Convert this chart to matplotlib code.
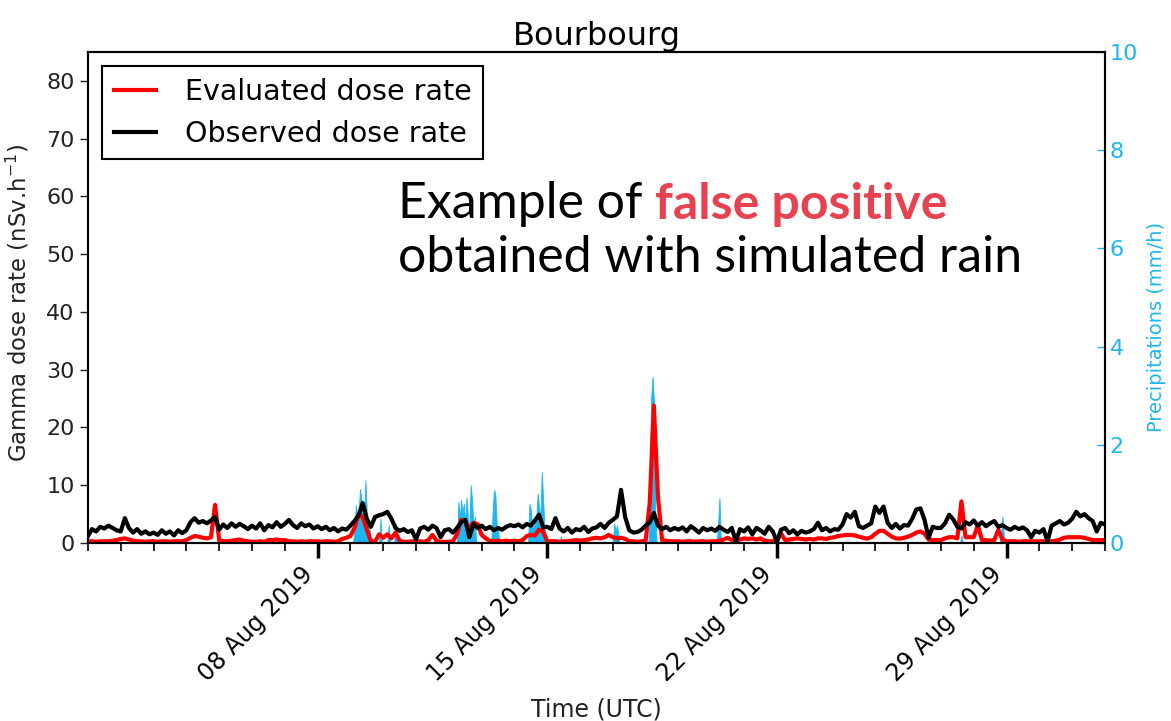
import numpy as np
import matplotlib
matplotlib.use('Agg')
import matplotlib.pyplot as plt
import matplotlib.dates as mdates

# data
START = np.datetime64('2019-08-01T00:00')
END = np.datetime64('2019-09-01T00:00')

# observed gamma dose rate, every 3 h from 01 Aug 00:00 (nSv/h)
observed = [
    1.2, 2.4, 2.0, 2.8, 2.5, 3.0, 2.6, 2.2,   # 01 Aug
    2.0, 4.3, 2.6, 1.8, 2.4, 1.6, 2.0, 1.5,
    1.8, 1.4, 2.2, 1.6, 2.0, 1.3, 2.2, 1.7,
    2.2, 3.6, 4.3, 3.5, 3.8, 3.4, 3.9, 4.5,
    2.3, 3.2, 2.6, 3.4, 2.8, 3.3, 2.9, 2.4,   # 05 Aug
    3.0, 2.5, 3.4, 2.2, 3.1, 2.7, 3.6, 2.8,
    3.3, 4.0, 3.1, 2.6, 3.4, 2.9, 3.2, 2.5,
    2.9, 2.4, 2.8, 2.2, 2.6, 2.0, 2.5, 2.3,
    3.0, 3.8, 4.8, 6.9, 4.2, 2.8, 4.5, 4.8,   # 09 Aug
    5.0, 5.4, 4.2, 2.6, 2.1, 2.4, 1.9, 2.2,
    0.6, 2.5, 2.8, 2.3, 3.0, 2.6, 1.0, 2.2,
    2.4, 1.8, 2.6, 3.6, 4.0, 1.0, 3.3, 2.6,
    3.0, 2.4, 2.8, 2.2, 2.6, 2.3, 2.8, 3.1,   # 13 Aug
    2.9, 3.2, 2.7, 3.3, 3.0, 3.9, 4.9, 2.7,
    2.8, 2.4, 4.3, 2.5, 2.0, 2.6, 1.8, 2.4,
    2.2, 2.8, 1.9, 2.5, 2.7, 3.3, 2.6, 3.5,
    4.0, 4.6, 9.2, 4.5, 2.2, 1.8, 1.9, 2.3,   # 17 Aug
    3.0, 3.6, 5.2, 3.0, 2.4, 2.8, 2.2, 2.6,
    2.3, 2.7, 2.0, 2.9, 2.4, 1.8, 2.6, 2.2,
    2.5, 2.1, 2.8, 2.3, 1.9, 2.6, 0.3, 2.4,
    2.0, 2.7, 1.5, 2.6, 2.2, 1.6, 2.8, 2.0,   # 21 Aug
    0.2, 2.3, 2.6, 1.7, 2.2, 1.5, 2.1, 1.8,
    2.0, 2.4, 3.5, 2.2, 2.6, 2.0, 2.4, 2.3,
    3.2, 5.0, 4.4, 5.4, 2.9, 2.6, 3.0, 3.4,
    6.3, 5.2, 6.3, 3.5, 2.6, 3.3, 2.5, 3.1,   # 25 Aug
    3.0, 4.2, 5.8, 6.0, 4.0, 0.9, 2.8, 2.6,
    2.6, 3.4, 4.9, 4.1, 2.8, 2.5, 3.6, 3.2,
    3.9, 3.0, 3.6, 2.9, 3.4, 3.8, 2.8, 3.1,
    2.6, 2.3, 2.8, 2.4, 2.7, 2.2, 1.0, 2.1,   # 29 Aug
    1.8, 2.4, 0.3, 3.0, 3.4, 3.8, 3.2, 3.5,
    4.2, 5.4, 4.6, 5.0, 4.3, 3.8, 2.0, 3.5,
    3.2,
]

# evaluated gamma dose rate, same time steps (nSv/h)
evaluated = [
    0.3, 0.3, 0.2, 0.3, 0.3, 0.3, 0.4, 0.5,   # 01 Aug
    0.7, 0.8, 0.6, 0.4, 0.3, 0.3, 0.2, 0.3,
    0.3, 0.2, 0.3, 0.3, 0.2, 0.3, 0.3, 0.3,
    0.5, 0.9, 1.2, 1.1, 0.9, 0.8, 1.0, 6.6,
    0.5, 0.3, 0.3, 0.4, 0.5, 0.6, 0.4, 0.3,   # 05 Aug
    0.2, 0.2, 0.3, 0.2, 0.5, 0.5, 0.6, 0.5,
    0.5, 0.3, 0.3, 0.2, 0.3, 0.2, 0.3, 0.3,
    0.3, 0.2, 0.3, 0.3, 0.2, 0.3, 0.7, 0.9,
    1.2, 2.6, 4.9, 4.5, 2.3, 0.3, 0.2, 1.5,   # 09 Aug
    0.9, 1.5, 0.8, 1.8, 0.4, 0.2, 0.2, 0.3,
    0.2, 0.3, 0.2, 0.5, 1.4, 0.4, 0.2, 0.2,
    0.2, 0.3, 1.5, 4.0, 3.8, 2.5, 3.5, 3.3,
    1.4, 0.8, 0.4, 0.3, 0.4, 0.3, 0.4, 0.3,   # 13 Aug
    0.4, 0.3, 0.5, 1.2, 1.4, 1.3, 2.3, 2.0,
    0.3, 0.3, 0.3, 0.2, 0.3, 0.3, 0.4, 0.5,
    0.4, 0.5, 0.6, 0.8, 0.9, 0.8, 1.0, 1.4,
    1.0, 0.8, 0.9, 0.7, 0.3, 0.3, 0.2, 0.3,   # 17 Aug
    0.4, 7.0, 23.8, 8.0, 0.5, 0.4, 0.3, 0.3,
    0.3, 0.2, 0.3, 0.3, 0.2, 0.3, 0.3, 0.2,
    0.3, 0.3, 0.4, 0.6, 0.9, 0.5, 0.3, 0.6,
    0.8, 0.7, 0.8, 0.6, 0.8, 0.4, 0.3, 0.3,   # 21 Aug
    0.3, 1.7, 0.5, 0.6, 0.7, 0.8, 0.7, 0.6,
    0.7, 0.6, 0.8, 0.8, 0.7, 0.9, 1.0, 1.2,
    1.3, 1.4, 1.4, 1.3, 1.1, 0.9, 0.75, 1.0,
    1.6, 2.1, 2.1, 1.6, 1.1, 0.8, 0.75, 0.9,  # 25 Aug
    1.1, 1.4, 1.8, 2.0, 1.6, 0.6, 0.5, 0.5,
    0.5, 0.8, 1.0, 1.0, 0.8, 7.2, 1.0, 1.0,
    1.0, 3.1, 0.5, 0.5, 0.4, 0.5, 2.3, 0.6,
    0.3, 0.3, 0.3, 0.2, 0.3, 0.3, 0.3, 0.3,   # 29 Aug
    0.3, 0.3, 0.2, 0.3, 0.4, 0.6, 0.9, 1.0,
    1.0, 1.0, 1.0, 0.9, 0.7, 0.5, 0.5, 0.5,
    0.5,
]

# rain events (hours after 01 Aug 00:00) and rates (mm/h)
rain_hours = [95, 131,
              195, 196, 197, 198, 199, 200, 201, 202, 203, 204, 205, 206,
              214, 220, 225,
              271, 272, 273, 274, 275, 276, 277, 278, 279, 280, 281, 282, 283,
              296, 297, 298, 299, 300,
              323, 324, 325, 326, 327, 328, 329, 330, 331, 332, 333, 334,
              346, 385, 386, 387, 388,
              411, 412, 413, 414, 415,
              440, 461, 462, 639, 668, 669, 670]
rain_rates = [0.1, 0.1,
              0.3, 0.77, 0.5, 0.6, 1.1, 0.9, 0.7, 0.5, 1.28, 0.6, 0.4, 0.3,
              0.5, 0.37, 0.4,
              0.84, 0.5, 0.88, 0.6, 0.8, 0.4, 0.93, 0.5, 0.3, 1.18, 0.88, 0.3, 0.54,
              0.6, 1.08, 1.01, 0.4, 0.28,
              0.8, 0.67, 0.3, 0.35, 0.4, 0.5, 1.01, 0.74, 0.5, 1.45, 0.88, 0.3,
              0.13, 0.4, 0.25, 0.35, 0.2,
              1.5, 2.95, 3.39, 2.9, 0.6,
              0.1, 0.4, 0.92, 0.15, 0.2, 0.54, 0.15]

tick_dates = ['2019-08-08', '2019-08-15', '2019-08-22', '2019-08-29']

RAIN_COL = '#1DB6F2'
FALSE_COL = '#E8414F'

t3 = START + np.arange(len(observed)) * np.timedelta64(3, 'h')
hours = np.arange(0, 745)
rain = np.zeros(len(hours))
rain[rain_hours] = rain_rates
t1 = START + hours * np.timedelta64(1, 'h')

fig = plt.figure(figsize=(11.71, 7.21), dpi=100)
ax = fig.add_axes([0.0751, 0.2469, 0.8685, 0.681])
ax2 = ax.twinx()
ax.set_zorder(ax2.get_zorder() + 1)
ax.patch.set_visible(False)

ax2.fill_between(t1, 0, rain, color=RAIN_COL, lw=0.6)
ax.plot(t3, evaluated, color='red', lw=3, label='Evaluated dose rate')
ax.plot(t3, observed, color='black', lw=3, label='Observed dose rate')

ax.set_xlim(START, END)
ax.set_ylim(0, 85)
ax2.set_ylim(0, 10)
ax.set_yticks(np.arange(0, 81, 10))
ax2.set_yticks(np.arange(0, 11, 2))

ax.set_xticks([np.datetime64(d) for d in tick_dates])
ax.xaxis.set_major_formatter(mdates.DateFormatter('%d %b %Y'))
ax.xaxis.set_minor_locator(mdates.DayLocator())
plt.setp(ax.get_xticklabels(), rotation=45, ha='right')

ax.tick_params(axis='x', which='major', length=11, width=2.5, labelsize=17, pad=3)
ax.tick_params(axis='x', which='minor', length=6, width=1.2)
ax.tick_params(axis='y', length=6, width=1, labelsize=16, colors='#222222')
ax2.tick_params(axis='y', direction='in', length=6, width=1, labelsize=16,
                colors=RAIN_COL)
for sp in ax.spines.values():
    sp.set_linewidth(1.5)
for sp in ax2.spines.values():
    sp.set_linewidth(1.5)

ax.set_ylabel('Gamma dose rate (nSv.h$^{-1}$)', fontsize=16.4, color='#222222')
ax.yaxis.set_label_coords(-0.056, 0.489)
ax2.set_ylabel('Precipitations (mm/h)', fontsize=14, color=RAIN_COL)
ax2.yaxis.set_label_coords(1.041, 0.44)
ax.set_xlabel('Time (UTC)', fontsize=17, color='#222222', labelpad=8)
ax.set_title('Bourbourg', fontsize=23, pad=5)

leg = ax.legend(loc='upper left', fontsize=20.5, handlelength=1.5, handletextpad=1.0,
                fancybox=False, edgecolor='black', framealpha=1,
                borderaxespad=0.5)
leg.get_frame().set_linewidth(1.5)

t1txt = fig.text(0.34, 0.6976, 'Example of ', fontsize=36, family='Lato',
                 va='baseline', ha='left')
ax.annotate('false positive', xy=(1, 0), xycoords=t1txt, va='bottom', ha='left',
            fontsize=36, family='Lato', fontweight='bold', color=FALSE_COL,
            annotation_clip=False)
fig.text(0.34, 0.6227, 'obtained with simulated rain', fontsize=36, family='Lato',
         va='baseline', ha='left')

fig.savefig('out.png', dpi=100)
